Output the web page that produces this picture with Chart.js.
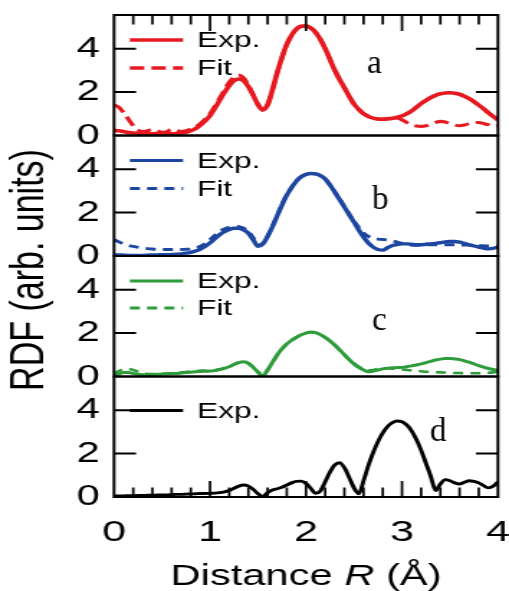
<!DOCTYPE html>
<html><head><meta charset="utf-8">
<script src="https://cdn.jsdelivr.net/npm/chart.js@4.4.0/dist/chart.umd.min.js"></script>
<style>
html,body{margin:0;padding:0;background:#fff;overflow:hidden;}
#wrap{position:absolute;left:0;top:0;width:354px;height:591px;transform-origin:0 0;transform:scaleX(1.4379);}
</style></head><body>
<div id="wrap"><canvas id="c" width="354" height="591"></canvas></div>
<script>
// ---------- data ----------
const distance = [0,0.05,0.1,0.15,0.2,0.25,0.3,0.35,0.4,0.45,0.5,0.55,0.6,0.65,0.7,0.75,0.8,0.85,0.9,0.95,
1,1.05,1.1,1.15,1.2,1.25,1.3,1.35,1.4,1.45,1.5,1.55,1.6,1.65,1.7,1.75,1.8,1.85,1.9,1.95,
2,2.05,2.1,2.15,2.2,2.25,2.3,2.35,2.4,2.45,2.5,2.55,2.6,2.65,2.7,2.75,2.8,2.85,2.9,2.95,
3,3.05,3.1,3.15,3.2,3.25,3.3,3.35,3.4,3.45,3.5,3.55,3.6,3.65,3.7,3.75,3.8,3.85,3.9,3.95,4];

const aExp = [0.24,0.22,0.18,0.14,0.11,0.09,0.08,0.08,0.08,0.09,0.10,0.09,0.08,0.09,0.11,0.15,0.22,0.32,0.48,0.68,
0.92,1.25,1.62,1.98,2.30,2.52,2.60,2.52,2.25,1.85,1.42,1.18,1.42,2.10,2.90,3.60,4.20,4.62,4.90,5.03,
5.05,4.95,4.75,4.42,4.00,3.50,3.00,2.58,2.20,1.80,1.45,1.20,1.00,0.88,0.80,0.76,0.75,0.76,0.79,0.84,
0.90,1.00,1.13,1.30,1.47,1.62,1.75,1.85,1.92,1.96,1.97,1.95,1.90,1.81,1.70,1.56,1.40,1.23,1.05,0.88,0.71];
const aFit = [1.40,1.30,1.05,0.75,0.45,0.25,0.18,0.22,0.28,0.22,0.15,0.18,0.28,0.25,0.18,0.22,0.30,0.40,0.55,0.75,
1.00,1.35,1.72,2.10,2.45,2.70,2.78,2.65,2.32,1.88,1.42,1.16,1.40,2.08,2.88,3.60,4.20,4.62,4.90,5.03,
5.05,4.95,4.75,4.42,4.00,3.50,3.00,2.58,2.20,1.80,1.45,1.20,1.00,0.88,0.80,0.76,0.76,0.78,0.82,0.80,
0.72,0.60,0.50,0.44,0.42,0.45,0.52,0.60,0.65,0.62,0.55,0.48,0.45,0.48,0.55,0.60,0.60,0.55,0.50,0.46,0.45];

const bExp = [0.05,0.05,0.04,0.03,0.03,0.03,0.03,0.04,0.05,0.05,0.06,0.06,0.07,0.08,0.10,0.13,0.17,0.23,0.32,0.45,
0.60,0.80,0.98,1.12,1.22,1.28,1.27,1.20,1.05,0.75,0.45,0.55,0.90,1.35,1.85,2.35,2.80,3.15,3.45,3.65,
3.76,3.80,3.78,3.70,3.55,3.27,2.94,2.60,2.25,1.90,1.56,1.20,0.87,0.60,0.41,0.30,0.27,0.38,0.48,0.53,
0.56,0.56,0.54,0.52,0.52,0.54,0.56,0.58,0.61,0.65,0.67,0.67,0.64,0.58,0.52,0.46,0.41,0.36,0.33,0.35,0.41];
const bFit = [0.75,0.65,0.55,0.48,0.44,0.40,0.36,0.34,0.32,0.30,0.30,0.30,0.30,0.30,0.30,0.31,0.32,0.36,0.45,0.58,
0.75,0.95,1.13,1.25,1.32,1.36,1.35,1.28,1.12,0.85,0.50,0.58,0.92,1.38,1.88,2.38,2.82,3.17,3.46,3.65,
3.76,3.80,3.78,3.70,3.55,3.28,2.96,2.63,2.28,1.94,1.62,1.32,1.05,0.90,0.82,0.78,0.76,0.74,0.70,0.64,
0.58,0.53,0.50,0.49,0.50,0.51,0.52,0.52,0.52,0.52,0.52,0.52,0.51,0.50,0.50,0.49,0.48,0.47,0.46,0.46,0.46];

const cExp = [0.05,0.12,0.18,0.18,0.14,0.10,0.08,0.08,0.09,0.10,0.11,0.12,0.13,0.14,0.16,0.18,0.20,0.22,0.23,0.24,
0.25,0.27,0.32,0.38,0.45,0.55,0.64,0.68,0.60,0.42,0.20,0.02,0.30,0.65,1.00,1.28,1.50,1.67,1.80,1.92,
2.00,2.05,2.02,1.93,1.80,1.64,1.45,1.23,1.00,0.78,0.58,0.42,0.30,0.22,0.25,0.30,0.35,0.38,0.40,0.41,
0.42,0.45,0.49,0.53,0.58,0.64,0.70,0.76,0.80,0.83,0.83,0.81,0.78,0.72,0.66,0.58,0.50,0.43,0.37,0.32,0.28];
const cFit = [0.12,0.25,0.33,0.35,0.30,0.22,0.15,0.12,0.11,0.12,0.13,0.14,0.15,0.17,0.19,0.21,0.23,0.25,0.27,0.28,
0.28,0.29,0.33,0.39,0.46,0.56,0.65,0.69,0.61,0.43,0.21,0.03,0.30,0.64,0.98,1.27,1.49,1.67,1.81,1.93,
2.01,2.04,2.01,1.92,1.79,1.63,1.44,1.22,1.00,0.79,0.60,0.45,0.34,0.28,0.30,0.35,0.38,0.38,0.36,0.34,
0.32,0.30,0.28,0.26,0.24,0.22,0.21,0.20,0.19,0.18,0.17,0.16,0.16,0.15,0.15,0.15,0.15,0.16,0.17,0.19,0.22];

const dExp = [0.05,0.05,0.05,0.06,0.06,0.07,0.07,0.08,0.08,0.09,0.10,0.10,0.11,0.12,0.12,0.13,0.14,0.15,0.16,0.16,
0.17,0.18,0.20,0.24,0.30,0.40,0.50,0.55,0.50,0.35,0.15,0.02,0.20,0.32,0.38,0.45,0.55,0.65,0.72,0.73,
0.62,0.40,0.17,0.28,0.70,1.15,1.48,1.58,1.35,0.90,0.42,0.15,0.75,1.45,2.05,2.55,2.95,3.25,3.42,3.50,
3.47,3.32,3.05,2.65,2.15,1.55,0.95,0.30,0.60,0.80,0.75,0.65,0.60,0.68,0.75,0.72,0.65,0.52,0.42,0.50,0.70];

const yTickValues = [0, 2, 4];
const xTickValues = [0, 1, 2, 3, 4];
const panelLetters = ['a', 'b', 'c', 'd'];
const seriesNames = ['Exp.', 'Fit'];

// ---------- styling / layout ----------
const S = 509 / 354;
const SANS = "'Liberation Sans', Arial, sans-serif";
const SERIF = "'Liberation Serif', 'Times New Roman', serif";
const YMAX = 5.55;
const panels = [
  {axis: 'ya', color: '#e5191f', exp: aExp, fit: aFit, width: 3.6, dash: [10, 5], legW: 3.6, letterPos: [2.635, 2.88], legY: [25, 53]},
  {axis: 'yb', color: '#1d46a0', exp: bExp, fit: bFit, width: 3.4, dash: [7, 5], legW: 3.0, letterPos: [2.69, 2.17], legY: [25, 53]},
  {axis: 'yc', color: '#2f9c3c', exp: cExp, fit: cFit, width: 3.0, dash: [7, 5], legW: 2.8, letterPos: [2.69, 2.14], legY: [25, 52]},
  {axis: 'yd', color: '#000000', exp: dExp, fit: null, width: 2.9, dash: [], legW: 2.8, letterPos: [3.29, 2.58], legY: [34]}
];

function pts(vals) { return distance.map((x, i) => ({x: x, y: vals[i]})); }

const datasets = [];
panels.forEach(p => {
  datasets.push({label: seriesNames[0], data: pts(p.exp), yAxisID: p.axis, xAxisID: 'x',
    borderColor: p.color, borderWidth: p.width, pointRadius: 0, fill: false, cubicInterpolationMode: 'monotone'});
  if (p.fit) datasets.push({label: seriesNames[1], data: pts(p.fit), yAxisID: p.axis, xAxisID: 'x',
    borderColor: p.color, borderWidth: p.width * 0.85, borderDash: p.dash, pointRadius: 0, fill: false, cubicInterpolationMode: 'monotone'});
});

function yScale() {
  return {
    type: 'linear', position: 'left', stack: 'rdf', stackWeight: 1, min: 0, max: YMAX,
    grid: {display: false, drawTicks: false}, border: {display: false},
    afterBuildTicks: s => { s.ticks = yTickValues.map(v => ({value: v})); },
    ticks: {padding: 10, color: '#000', autoSkip: false, font: {family: SANS, size: 29}, callback: v => String(v)},
    afterFit: s => { s.width = 79.3; s.paddingTop = 0; s.paddingBottom = 0; }
  };
}

const deco = {
  id: 'deco',
  afterDatasetsDraw(chart) {
    const ctx = chart.ctx, area = chart.chartArea, xs = chart.scales.x;
    ctx.save();
    ctx.strokeStyle = '#000';
    // frames
    ctx.lineWidth = 2;
    panels.forEach(p => {
      const s = chart.scales[p.axis];
      ctx.strokeRect(area.left, s.top, area.right - area.left, s.bottom - s.top);
    });
    // y ticks both sides (inward)
    const YT = 15.3;
    panels.forEach(p => {
      const s = chart.scales[p.axis];
      yTickValues.forEach(v => {
        if (v === 0) return;
        const y = s.getPixelForValue(v);
        ctx.beginPath();
        ctx.moveTo(area.left, y); ctx.lineTo(area.left + YT, y);
        ctx.moveTo(area.right - YT, y); ctx.lineTo(area.right, y);
        ctx.stroke();
      });
    });
    // x ticks on top of first panel and bottom of last panel
    const top = chart.scales[panels[0].axis].top;
    const bot = chart.scales[panels[3].axis].bottom;
    ctx.lineWidth = 1.7;
    for (let i = 1; i < 20; i++) {
      const v = i * 0.2;
      const major = i % 5 === 0;
      const L = major ? 16 : 9.5;
      const x = xs.getPixelForValue(v);
      ctx.beginPath();
      ctx.moveTo(x, top); ctx.lineTo(x, top + L);
      ctx.moveTo(x, bot); ctx.lineTo(x, bot - L);
      ctx.stroke();
    }
    // legends
    panels.forEach(p => {
      const s = chart.scales[p.axis];
      p.legY.forEach((dy, k) => {
        const y = s.top + dy;
        ctx.save();
        ctx.strokeStyle = p.color;
        ctx.lineWidth = p.legW;
        ctx.setLineDash(k === 0 ? [] : p.dash);
        ctx.beginPath();
        ctx.moveTo(area.left + 11, y); ctx.lineTo(area.left + 48, y);
        ctx.stroke();
        ctx.restore();
        ctx.fillStyle = '#000';
        ctx.font = '22px ' + SANS;
        ctx.textAlign = 'left'; ctx.textBaseline = 'middle';
        ctx.fillText(seriesNames[k], area.left + 57.7, y + 1);
      });
      // panel letter (not stretched)
      const lx = xs.getPixelForValue(p.letterPos[0]);
      const ly = s.getPixelForValue(p.letterPos[1]);
      ctx.save();
      ctx.translate(lx, ly);
      ctx.scale(1 / S, 1);
      ctx.fillStyle = '#000';
      ctx.font = '33px ' + SERIF;
      ctx.textAlign = 'left'; ctx.textBaseline = 'alphabetic';
      ctx.fillText(panelLetters[panels.indexOf(p)], 0, 0);
      ctx.restore();
    });
    // y title
    ctx.save();
    ctx.fillStyle = '#000';
    ctx.font = '34px ' + SANS;
    ctx.translate(30, 270);
    ctx.rotate(-Math.PI / 2);
    ctx.textAlign = 'center'; ctx.textBaseline = 'alphabetic';
    ctx.fillText('RDF (arb. units)', 0, 0);
    ctx.restore();
    // x title with italic R
    const parts = [['Distance ', ''], ['R', 'italic '], [' (Å)', '']];
    let total = 0;
    parts.forEach(pt => { ctx.font = pt[1] + '29px ' + SANS; total += ctx.measureText(pt[0]).width; });
    let cx = (area.left + area.right) / 2 - total / 2;
    ctx.fillStyle = '#000';
    ctx.textAlign = 'left'; ctx.textBaseline = 'alphabetic';
    parts.forEach(pt => { ctx.font = pt[1] + '29px ' + SANS; ctx.fillText(pt[0], cx, 585); cx += ctx.measureText(pt[0]).width; });
    ctx.restore();
  }
};

new Chart(document.getElementById('c'), {
  type: 'line',
  data: {datasets: datasets},
  options: {
    responsive: false, animation: false, devicePixelRatio: 1,
    layout: {padding: {left: 0, right: 7.7, top: 15, bottom: 0}},
    plugins: {legend: {display: false}, tooltip: {enabled: false}},
    scales: {
      x: {
        type: 'linear', position: 'bottom', min: 0, max: 4,
        grid: {display: false, drawTicks: false}, border: {display: false},
        afterBuildTicks: s => { s.ticks = xTickValues.map(v => ({value: v})); },
        ticks: {padding: 18, color: '#000', autoSkip: false, maxRotation: 0, font: {family: SANS, size: 30}, callback: v => String(v)},
        afterFit: s => { s.height = 94; s.paddingLeft = 0; s.paddingRight = 0; }
      },
      yd: yScale(), yc: yScale(), yb: yScale(), ya: yScale()
    }
  },
  plugins: [deco]
});
</script>
</body></html>
